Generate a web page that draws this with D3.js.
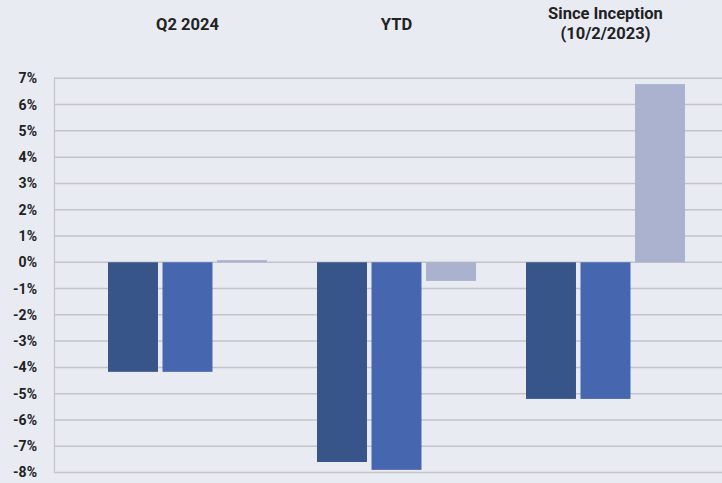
<!DOCTYPE html>
<html>
<head>
<meta charset="utf-8">
<script src="https://cdn.jsdelivr.net/npm/d3@7"></script>
<style>
  html, body { margin: 0; padding: 0; background: #e8ebf2; }
  svg { display: block; font-family: Roboto, "Liberation Sans", sans-serif; }
</style>
</head>
<body>
<svg width="722" height="483"></svg>
<script>
// data
var periods = ["Q2 2024", "YTD", "Since Inception\n(10/2/2023)"];
var seriesNames = ["Fund (NAV)", "Fund (Market)", "Benchmark"];
var seriesColors = ["#38558a", "#4667b0", "#aab2cf"];
var navValues = [-4.17, -7.6, -5.2];
var marketValues = [-4.17, -7.9, -5.2];
var benchValues = [0.08, -0.71, 6.78];
var yTicks = [-8, -7, -6, -5, -4, -3, -2, -1, 0, 1, 2, 3, 4, 5, 6, 7];

var svg = d3.select("svg"),
    width = +svg.attr("width"),
    height = +svg.attr("height");

var rows = [];
for (var i = 0; i < periods.length; i++) {
  rows.push({period: periods[i], values: [navValues[i], marketValues[i], benchValues[i]]});
}

// scales
var x0 = d3.scaleBand().domain(periods).range([83, 710]);
var x1 = d3.scaleBand().domain(seriesNames).range([25, 184]).paddingInner(0.083);
var y = d3.scaleLinear().domain([-8, 7]).range([472.5, 78.3]);
var color = d3.scaleOrdinal().domain(seriesNames).range(seriesColors);

// gridlines
svg.append("g").selectAll("line")
    .data(yTicks)
  .enter().append("line")
    .attr("x1", 54).attr("x2", width)
    .attr("y1", function(d) { return y(d); })
    .attr("y2", function(d) { return y(d); })
    .attr("stroke", "#c2c4c8")
    .attr("stroke-width", 1.5);

// left axis line
svg.append("line")
  .attr("x1", 54.5).attr("x2", 54.5)
  .attr("y1", y(7)).attr("y2", y(-8))
  .attr("stroke", "#c2c4c8")
  .attr("stroke-width", 1.2);

// y labels
var yAxis = d3.axisLeft(y).tickValues(yTicks).tickSize(0).tickPadding(0)
  .tickFormat(function(d) { return d + "%"; });
var ay = svg.append("g").attr("transform", "translate(37,0)").call(yAxis);
ay.select(".domain").remove();
ay.selectAll("text")
  .attr("font-family", "Roboto, sans-serif")
  .attr("font-size", 14)
  .attr("font-weight", "bold")
  .attr("fill", "#222");

// bars
var groups = svg.append("g").selectAll("g")
    .data(rows)
  .enter().append("g")
    .attr("transform", function(d) { return "translate(" + x0(d.period) + ",0)"; });

groups.selectAll("rect")
    .data(function(d) { return d.values.map(function(v, j) { return {name: seriesNames[j], value: v}; }); })
  .enter().append("rect")
    .attr("x", function(d) { return x1(d.name); })
    .attr("width", x1.bandwidth())
    .attr("y", function(d) { return y(Math.max(0, d.value)); })
    .attr("height", function(d) { return Math.abs(y(d.value) - y(0)); })
    .attr("fill", function(d) { return color(d.name); });

// period headers
var heads = svg.append("g").selectAll("text")
    .data(periods)
  .enter().append("text")
    .attr("x", function(d) { return x0(d) + x0.bandwidth() / 2; })
    .attr("text-anchor", "middle")
    .attr("font-size", 16.5)
    .attr("font-weight", "bold")
    .attr("fill", "#222");
heads.each(function(d) {
  var lines = d.split("\n");
  var t = d3.select(this);
  var y0 = lines.length > 1 ? 19 : 30;
  lines.forEach(function(l, k) {
    t.append("tspan")
      .attr("x", x0(d) + x0.bandwidth() / 2)
      .attr("y", y0 + k * 19.5)
      .text(l);
  });
});
</script>
</body>
</html>
